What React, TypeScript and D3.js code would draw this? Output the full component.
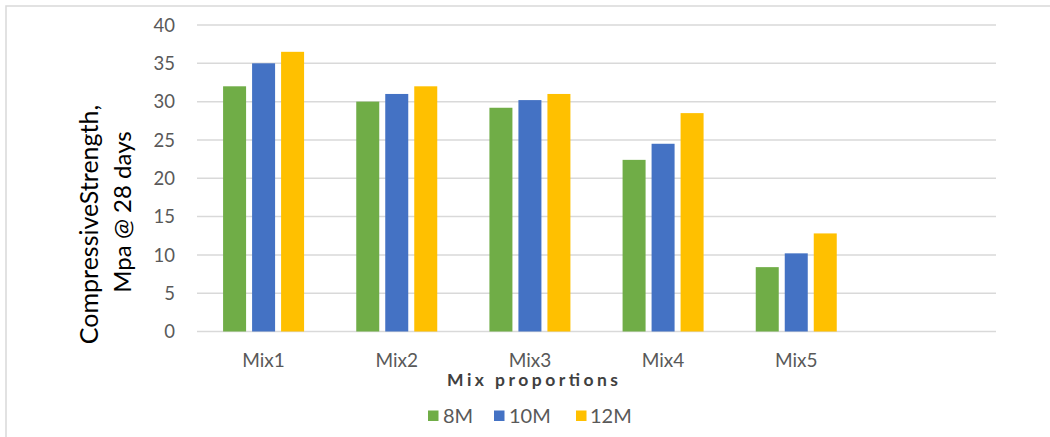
import React from "react";
import * as d3 from "d3";

const categories = ["Mix1", "Mix2", "Mix3", "Mix4", "Mix5", ""];
const seriesNames = ["8M", "10M", "12M"];
const values8M = [32, 30, 29.2, 22.4, 8.4];
const values10M = [35, 31, 30.2, 24.5, 10.2];
const values12M = [36.5, 32, 31, 28.5, 12.8];
const yTicks = [0, 5, 10, 15, 20, 25, 30, 35, 40];
const colors = ["#70AD47", "#4472C4", "#FFC000"];

const W = 1050;
const H = 437;
const plot = { left: 197, right: 996, top: 25, bottom: 331.5 };
const FONT = "Lato, 'Open Sans', sans-serif";

export default function App() {
  const seriesValues = [values8M, values10M, values12M];
  const x = d3.scaleBand<string>().domain(categories.map((c, i) => String(i))).range([plot.left, plot.right]).padding(0);
  const groupW = 81;
  const inner = d3.scaleBand<string>().domain(seriesNames).range([0, groupW]).paddingInner(6 / 29).paddingOuter(0);
  const y = d3.scaleLinear().domain([0, 40]).range([plot.bottom, plot.top]);

  const legend = [
    { sq: 428, tx: 443 },
    { sq: 494, tx: 509 },
    { sq: 576, tx: 590 },
  ];

  return (
    <svg width={W} height={H} style={{ position: "absolute", left: 0, top: 0 }}>
      <rect x={0} y={0} width={W} height={H} fill="#fff" />
      <rect x={6} y={6} width={W + 20} height={H + 20} fill="none" stroke="#d9d9d9" strokeWidth={1.5} />
      {yTicks.map((t) => (
        <g key={t}>
          <line x1={plot.left} x2={plot.right} y1={y(t)} y2={y(t)} stroke="#d9d9d9" strokeWidth={1.5} />
          <text x={175} y={y(t)} dy="0.36em" textAnchor="end" fontFamily={FONT} fontSize={18.5} fill="#595959">
            {t}
          </text>
        </g>
      ))}
      {categories.map((c, ci) => {
        const cx = (x(String(ci)) as number) + x.bandwidth() / 2;
        const g0 = cx - groupW / 2;
        return (
          <g key={ci}>
            {seriesValues.map((vals, si) =>
              ci < vals.length ? (
                <rect
                  key={si}
                  x={g0 + (inner(seriesNames[si]) as number)}
                  y={y(vals[ci])}
                  width={inner.bandwidth()}
                  height={y(0) - y(vals[ci])}
                  fill={colors[si]}
                />
              ) : null
            )}
            {c && (
              <text x={cx} y={366.5} textAnchor="middle" fontFamily={FONT} fontSize={19} fill="#595959">
                {c}
              </text>
            )}
          </g>
        );
      })}
      <text
        x={447}
        y={385.5}
        textLength={171}
        lengthAdjust="spacing"
        fontFamily={FONT}
        fontSize={17.5}
        fontWeight="bold"
        fill="#404040"
      >
        Mix proportions
      </text>
      <g transform="translate(98,224.5) rotate(-90)">
        <text x={0} y={0} textAnchor="middle" fontFamily={FONT} fontSize={25} fill="#000">
          CompressiveStrength,
        </text>
      </g>
      <g transform="translate(131,212) rotate(-90)">
        <text x={0} y={0} textAnchor="middle" fontFamily={FONT} fontSize={24} fill="#000">
          Mpa @ 28 days
        </text>
      </g>
      {seriesNames.map((s, i) => (
        <g key={s}>
          <rect x={legend[i].sq} y={410.5} width={10.5} height={10.5} fill={colors[i]} />
          <text x={legend[i].tx} y={416} dy="0.36em" fontFamily={FONT} fontSize={20} fill="#595959">
            {s}
          </text>
        </g>
      ))}
    </svg>
  );
}
